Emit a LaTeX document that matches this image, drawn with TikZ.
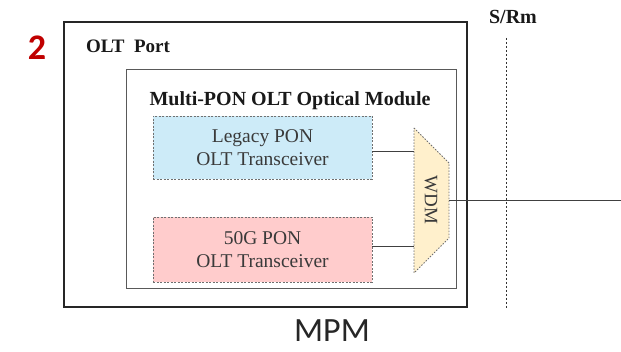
\documentclass[tikz,border=0pt]{standalone}
\usepackage{fontspec}
\setmainfont{Liberation Serif}
\newfontfamily\carlito{Carlito}
\definecolor{legacyfill}{HTML}{CDEBF8}
\definecolor{pinkfill}{HTML}{FFCCCC}
\definecolor{wdmfill}{HTML}{FFF0CC}
\definecolor{numred}{HTML}{C00000}
\definecolor{txtgray}{HTML}{3A3A3A}
\definecolor{edgegray}{HTML}{707070}
\begin{document}
\begin{tikzpicture}[x=1pt,y=-1pt,
  portbox/.style={draw=black!85,line width=1.4pt,minimum width=403pt,minimum height=285pt,inner sep=0pt},
  modbox/.style={draw=gray!70!black,line width=0.9pt,minimum width=330pt,minimum height=219pt,inner sep=0pt},
  trx/.style={draw=edgegray,line width=0.8pt,dash pattern=on 2pt off 1.5pt,minimum width=219pt,inner sep=0pt,
    align=center,text=txtgray,font=\fontsize{19.5}{22.5}\selectfont},
  title/.style={font=\bfseries\fontsize{19}{20}\selectfont,text=black!90,inner sep=0pt},
  wire/.style={draw=black!75,line width=0.8pt}]
\useasboundingbox (0,0) rectangle (621,352);
\fill[white] (0,0) rectangle (621,352);

% enclosing boxes
\node[portbox] (port) at (265.5,164.5) {};
\node[modbox] (module) at (291,178.5) {};

% labels
\node[font=\carlito\bfseries\fontsize{36}{36}\selectfont,text=numred,inner sep=0pt] (num) at (37,48) {2};
\node[title,anchor=west] (portlbl) at (86,46) {OLT\ \ Port};
\node[title,font=\bfseries\fontsize{20}{20}\selectfont] (modlbl) at (290,101) {Multi-PON OLT Optical Module};
\node[title,font=\bfseries\fontsize{20}{20}\selectfont] (srm) at (513,17) {S/Rm};
\node[font=\carlito\fontsize{34}{34}\selectfont,text=black!85,inner sep=0pt] (mpm) at (332,331) {MPM};

% transceivers
\node[trx,fill=legacyfill,minimum height=63pt] (legacy) at (262.5,147.5) {Legacy PON\\OLT Transceiver};
\node[trx,fill=pinkfill,minimum height=65pt] (fifty) at (262.5,249.5) {50G PON\\OLT Transceiver};

% WDM trapezoid
\coordinate (wTL) at (414,128);
\coordinate (wTR) at (449,163);
\coordinate (wBR) at (449,238);
\coordinate (wBL) at (414,273);
\filldraw[fill=wdmfill,draw=edgegray,line width=0.8pt,dash pattern=on 1.5pt off 1.5pt]
  (wTL) -- (wTR) -- (wBR) -- (wBL) -- cycle;
\node[rotate=-90,font=\fontsize{19}{19}\selectfont,text=txtgray,inner sep=0pt] (wdm) at (431,200) {WDM};

% fibre connections
\coordinate (in1) at (414,151);
\coordinate (in2) at (414,246);
\coordinate (out) at (449,200);
\coordinate (fiberend) at (621,200);
\draw[wire] (legacy.east |- in1) -- (in1);
\draw[wire] (fifty.east |- in2) -- (in2);
\draw[wire] (out) -- (fiberend);

% reference point line
\coordinate (refTop) at (506,38);
\coordinate (refBot) at (506,308);
\draw[black!80,line width=0.8pt,dash pattern=on 2.5pt off 1.5pt] (refTop) -- (refBot);
\end{tikzpicture}
\end{document}
